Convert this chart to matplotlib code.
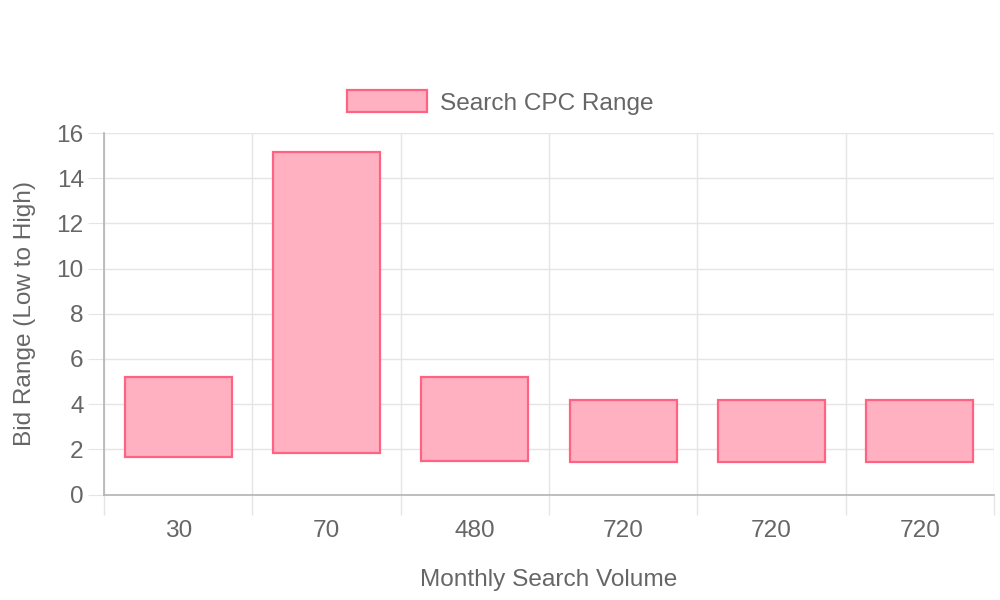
import matplotlib.pyplot as plt
from matplotlib.patches import Patch

# Floating bar data (low, high) per category
categories = ["30", "70", "480", "720", "720", "720"]
bid_low = [1.66, 1.84, 1.48, 1.44, 1.44, 1.44]
bid_high = [5.2, 15.15, 5.2, 4.18, 4.18, 4.18]

plt.rcParams["font.family"] = ["Liberation Sans", "DejaVu Sans"]
text_color = "#666666"
grid_color = "#e5e5e5"
fill = "#ffb1c1"
edge = "#ff6384"
fs = 17.6

fig = plt.figure(figsize=(10, 6), dpi=100)
ax = fig.add_axes([0.104, 1 - 494.5 / 600, 0.89, (494.5 - 133) / 600])

x = list(range(len(categories)))
heights = [h - l for l, h in zip(bid_low, bid_high)]
ax.bar(x, heights, bottom=bid_low, width=0.72, color=fill, edgecolor=edge,
       linewidth=1.6, zorder=3)

ax.set_xlim(-0.5, len(categories) - 0.5)
ax.set_ylim(0, 16)
ax.set_yticks(range(0, 17, 2))
ax.set_xticks(x)
ax.set_xticklabels(categories)
ax.set_xticks([i - 0.5 for i in range(len(categories) + 1)], minor=True)

ax.grid(axis="y", which="major", color=grid_color, linewidth=1, zorder=0)
ax.grid(axis="x", which="minor", color=grid_color, linewidth=1, zorder=0)

ax.tick_params(axis="x", which="major", length=0, pad=18.5, labelsize=fs,
               labelcolor=text_color)
ax.tick_params(axis="x", which="minor", length=14.5, color=grid_color, width=1)
ax.tick_params(axis="y", length=11.5, color=grid_color, pad=3, labelsize=fs,
               labelcolor=text_color)

for side in ["top", "right"]:
    ax.spines[side].set_visible(False)
for side in ["left", "bottom"]:
    ax.spines[side].set_color("#b3b3b3")
    ax.spines[side].set_linewidth(1.2)

ax.set_xlabel("Monthly Search Volume", fontsize=fs, color=text_color, labelpad=19)
ax.set_ylabel("Bid Range (Low to High)", fontsize=fs, color=text_color, labelpad=15)

handle = Patch(facecolor=fill, edgecolor=edge, linewidth=1.6)
fig.legend([handle], ["Search CPC Range"], loc="center",
           bbox_to_anchor=(0.5, 1 - 102.5 / 600), frameon=False, fontsize=fs,
           labelcolor=text_color, handlelength=3.3, handleheight=1.0,
           handletextpad=0.5)

fig.savefig("out.png", dpi=100)
